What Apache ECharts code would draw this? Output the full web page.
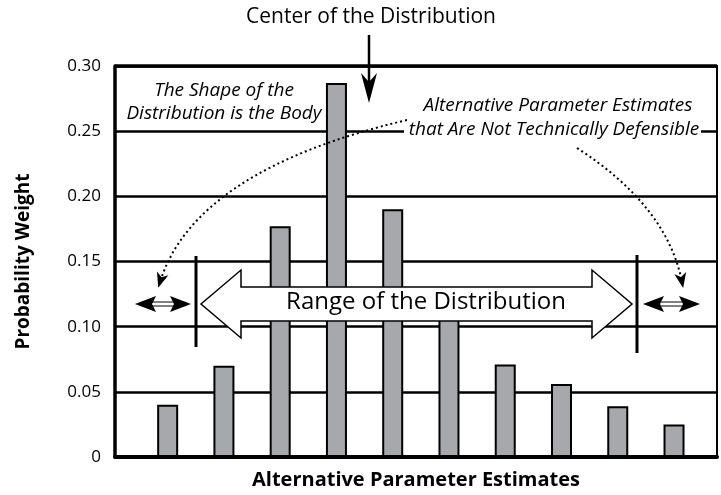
<!DOCTYPE html>
<html><head><meta charset="utf-8">
<script src="https://cdn.jsdelivr.net/npm/echarts@6/dist/echarts.min.js"></script>
<style>html,body{margin:0;padding:0;background:#fff}#c{width:721px;height:495px}</style>
</head><body><div id="c"></div>
<script>
const categories = [1, 2, 3, 4, 5, 6, 7, 8, 9, 10];
const weights = [0.040, 0.070, 0.177, 0.287, 0.190, 0.110, 0.071, 0.056, 0.039, 0.025];
const yTickLabels = ['0', '0.05', '0.10', '0.15', '0.20', '0.25', '0.30'];
const titleText = 'Center of the Distribution';
const xName = 'Alternative Parameter Estimates';
const yName = 'Probability Weight';
const note1 = ['The Shape of the', 'Distribution is the Body'];
const note2 = ['Alternative Parameter Estimates', 'that Are Not Technically Defensible'];
const rangeText = 'Range of the Distribution';

const FONT = '"Open Sans", "Noto Sans", sans-serif';
const chart = echarts.init(document.getElementById('c'), null, {renderer: 'canvas'});

function headPoly(tipX, tipY, dx, dy, len, half, notch) {
  const n = Math.hypot(dx, dy); const ux = dx / n, uy = dy / n; const px = -uy, py = ux;
  const bx = tipX - ux * len, by = tipY - uy * len;
  const nx = tipX - ux * (len - notch), ny = tipY - uy * (len - notch);
  return [[tipX, tipY], [bx + px * half, by + py * half], [nx, ny], [bx - px * half, by - py * half]];
}
function quadEndHead(x1, y1, cx, cy, x2, y2) {
  const d = Math.hypot(x2 - cx, y2 - cy);
  return headPoly(x2 + (x2 - cx) / d * 6, y2 + (y2 - cy) / d * 6, x2 - cx, y2 - cy, 15, 6, 4);
}
const black = '#000';
const Z = 100;
const graphics = [
  {type: 'text', z: Z, style: {text: titleText, x: 371, y: 17, font: '21px ' + FONT, fill: black, textAlign: 'center', textVerticalAlign: 'middle'}},
  {type: 'line', z: Z, shape: {x1: 369, y1: 35, x2: 369, y2: 84}, style: {stroke: black, lineWidth: 2.5}},
  {type: 'polygon', z: Z, shape: {points: headPoly(369, 103, 0, 1, 30, 8, 9)}, style: {fill: black}},
  {type: 'text', z: Z, style: {text: note1[0], x: 224, y: 91, font: 'italic 19px ' + FONT, fill: black, textAlign: 'center', textVerticalAlign: 'middle'}},
  {type: 'text', z: Z, style: {text: note1[1], x: 224, y: 114, font: 'italic 19px ' + FONT, fill: black, textAlign: 'center', textVerticalAlign: 'middle'}},
  {type: 'rect', z: Z, shape: {x: 404, y: 124, width: 297, height: 14}, style: {fill: '#fff'}},
  {type: 'text', z: Z, style: {text: note2[0], x: 558, y: 106, font: 'italic 19px ' + FONT, fill: black, textAlign: 'center', textVerticalAlign: 'middle'}},
  {type: 'text', z: Z, style: {text: note2[1], x: 554, y: 130, font: 'italic 19px ' + FONT, fill: black, textAlign: 'center', textVerticalAlign: 'middle'}},
  // dotted curves
  {type: 'bezierCurve', z: Z, shape: {x1: 407, y1: 120, cpx1: 195, cpy1: 170, x2: 160, y2: 282}, style: {stroke: black, lineWidth: 2, lineDash: [2, 3], fill: null}},
  {type: 'polygon', z: Z, shape: {points: quadEndHead(407, 120, 195, 170, 160, 282)}, style: {fill: black}},
  {type: 'bezierCurve', z: Z, shape: {x1: 577, y1: 148, cpx1: 667, cpy1: 206, x2: 682, y2: 282}, style: {stroke: black, lineWidth: 2, lineDash: [2, 3], fill: null}},
  {type: 'polygon', z: Z, shape: {points: quadEndHead(577, 148, 667, 206, 682, 282)}, style: {fill: black}},
  // range arrow
  {type: 'polygon', z: Z, shape: {points: [[201, 304], [241, 270], [241, 287], [592, 287], [592, 270], [632, 304], [592, 338], [592, 321], [241, 321], [241, 338]]}, style: {fill: '#fff', stroke: black, lineWidth: 1.5}},
  {type: 'text', z: Z, style: {text: rangeText, x: 426, y: 302, font: '24px ' + FONT, fill: black, textAlign: 'center', textVerticalAlign: 'middle'}},
  // vertical limit lines
  {type: 'line', z: Z, shape: {x1: 196, y1: 256, x2: 196, y2: 347}, style: {stroke: black, lineWidth: 3}},
  {type: 'line', z: Z, shape: {x1: 637, y1: 255, x2: 637, y2: 353}, style: {stroke: black, lineWidth: 3}},
  // small double arrows
  {type: 'rect', z: Z, shape: {x: 150, y: 302, width: 26, height: 4}, style: {fill: '#fff', stroke: black, lineWidth: 1}},
  {type: 'polygon', z: Z, shape: {points: headPoly(135, 304, -1, 0, 21, 8, 4)}, style: {fill: black}},
  {type: 'polygon', z: Z, shape: {points: headPoly(191, 304, 1, 0, 21, 8, 4)}, style: {fill: black}},
  {type: 'rect', z: Z, shape: {x: 659, y: 302, width: 26, height: 4}, style: {fill: '#fff', stroke: black, lineWidth: 1}},
  {type: 'polygon', z: Z, shape: {points: headPoly(643, 304, -1, 0, 21, 8, 4)}, style: {fill: black}},
  {type: 'polygon', z: Z, shape: {points: headPoly(700, 304, 1, 0, 21, 8, 4)}, style: {fill: black}}
];

chart.setOption({
  animation: false,
  backgroundColor: '#fff',
  grid: {left: 115, right: 4, top: 66, bottom: 38, show: true, borderColor: black, borderWidth: 2, outerBoundsMode: 'none', containLabel: false},
  xAxis: {
    type: 'value', min: 0.064, max: 10.764,
    axisLabel: {show: false}, axisTick: {show: false}, splitLine: {show: false},
    axisLine: {show: true, onZero: false, lineStyle: {color: black, width: 4}},
    name: xName, nameLocation: 'middle', nameGap: 13,
    nameTextStyle: {fontFamily: FONT, fontWeight: 'bold', fontSize: 20, color: black}
  },
  yAxis: {
    type: 'value', min: 0, max: 0.3, interval: 0.05,
    axisLine: {show: true, lineStyle: {color: black, width: 3.5}},
    axisTick: {show: false},
    splitLine: {show: true, lineStyle: {color: black, width: 2.5}},
    axisLabel: {margin: 14, fontFamily: FONT, fontSize: 17, color: black, formatter: (v, i) => yTickLabels[i]},
    name: yName, nameLocation: 'middle', nameGap: 82,
    nameTextStyle: {fontFamily: FONT, fontWeight: 'bold', fontSize: 19, color: black}
  },
  series: [{
    type: 'bar',
    data: categories.map((c, i) => [c, weights[i]]),
    barWidth: 21,
    itemStyle: {color: '#a7a8ab', borderColor: black, borderWidth: 2},
    markLine: {silent: true, symbol: 'none', label: {show: false}, data: [{yAxis: 0.3}], lineStyle: {color: black, width: 3.5, type: 'solid'}}
  }],
  graphic: {elements: graphics}
});
</script>
</body></html>
